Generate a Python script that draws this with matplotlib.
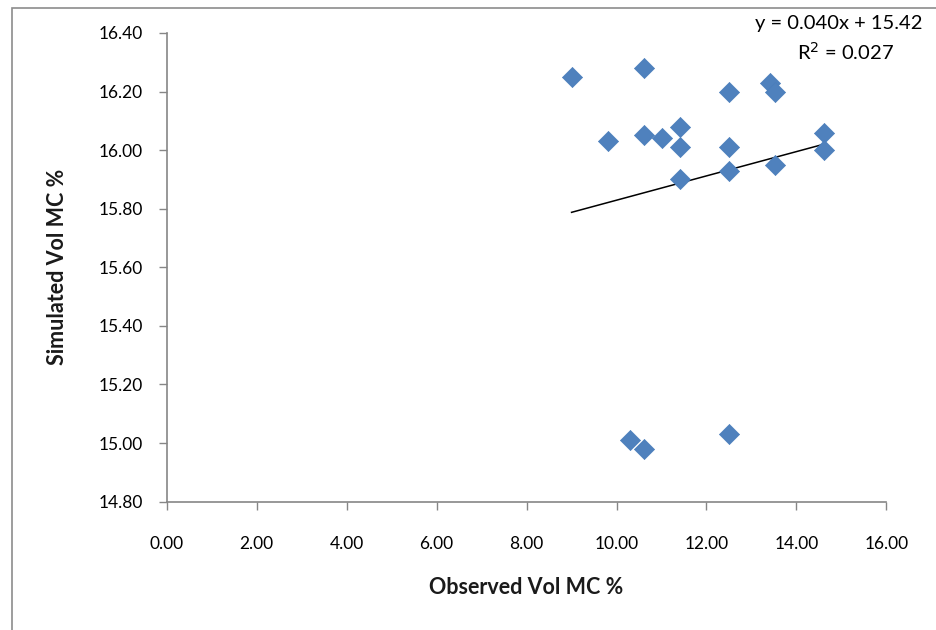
import numpy as np
import matplotlib.pyplot as plt
from matplotlib.patches import Rectangle

plt.rcParams['font.family'] = ['Lato', 'DejaVu Sans']

# observed vs simulated volumetric moisture content
observed = [9.00, 10.61, 9.80, 10.61, 11.01, 11.41, 11.41, 11.41,
            12.50, 13.42, 13.52, 12.50, 12.50, 13.52, 14.61, 14.61,
            10.30, 10.61, 12.50]
simulated = [16.25, 16.28, 16.03, 16.05, 16.04, 16.08, 16.01, 15.90,
             16.20, 16.23, 16.20, 16.01, 15.93, 15.95, 16.06, 16.00,
             15.01, 14.98, 15.03]
x_ticks = [0, 2, 4, 6, 8, 10, 12, 14, 16]
y_ticks = [14.8, 15.0, 15.2, 15.4, 15.6, 15.8, 16.0, 16.2, 16.4]
eq_text = "y = 0.040x + 15.42"
r2_text = "R$^2$ = 0.027"

fig = plt.figure(figsize=(9.37, 6.3), dpi=100)
ax = fig.add_axes([0.178, 0.2037, 0.768, 0.744])

ax.scatter(observed, simulated, marker='D', s=105, color='#4F81BD',
           edgecolors='#4A7EBB', linewidths=0.5, zorder=3)

# linear trendline
slope, icpt = np.polyfit(observed, simulated, 1)
xl = np.array([min(observed), max(observed)])
ax.plot(xl, slope * xl + icpt, color='black', lw=1.1, zorder=2)

ax.set_xlim(0, 16)
ax.set_ylim(14.8, 16.4)
ax.set_xticks(x_ticks)
ax.set_yticks(y_ticks)
ax.set_xticklabels(["%.2f" % v for v in x_ticks])
ax.set_yticklabels(["%.2f" % v for v in y_ticks])
ax.tick_params(axis='x', length=6, width=1, color='#868686', pad=19,
               labelsize=12.5, labelcolor='black')
ax.tick_params(axis='y', length=6, width=1, color='#868686', pad=11,
               labelsize=12.5, labelcolor='black')
for s in ['top', 'right']:
    ax.spines[s].set_visible(False)
for s in ['left', 'bottom']:
    ax.spines[s].set_color('#868686')
    ax.spines[s].set_linewidth(1.2)

fig.text(0.561, 0.067, "Observed Vol MC %", ha='center', va='center',
         fontsize=15.5, fontweight='bold', color='#1a1a1a')
fig.text(0.061, 0.576, "Simulated Vol MC %", ha='center', va='center',
         rotation=90, fontsize=15.5, fontweight='bold', color='#1a1a1a')

fig.text(0.984, 0.963, eq_text, ha='right', va='center', fontsize=14.5,
         color='black')
fig.text(0.902, 0.917, r2_text, ha='center', va='center', fontsize=14.5,
         color='black')

# chart frame (cropped at right and bottom)
fig.patches.append(Rectangle((0.013, -0.1), 1.2, 1.087, transform=fig.transFigure,
                             fill=False, edgecolor='#8c8c8c', lw=1.2))

fig.savefig("out.png", dpi=100)
